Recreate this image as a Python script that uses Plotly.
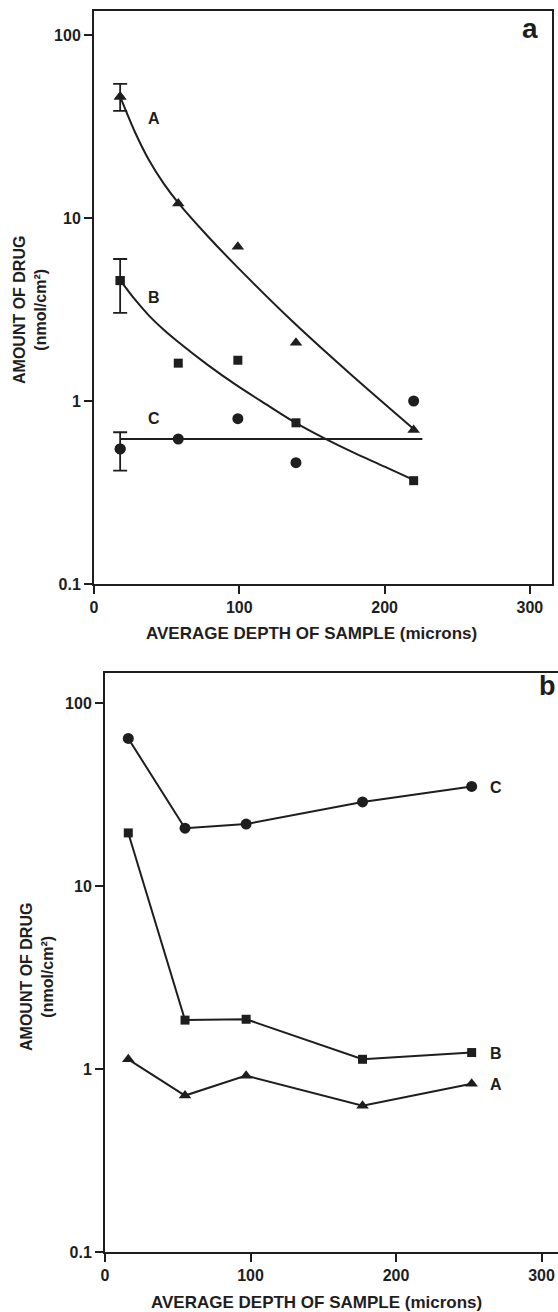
import plotly.graph_objects as go

# ---------------- Panel a data ----------------
depth_a = [18, 58, 99, 139, 220]
a_A = [46, 12.0, 6.97, 2.08, 0.695]
a_B = [4.55, 1.61, 1.67, 0.76, 0.367]
a_C = [0.547, 0.62, 0.80, 0.46, 1.0]
err_x_a = [18]
err_hi_a = {"A": 54, "B": 5.97, "C": 0.675}
err_lo_a = {"A": 38.5, "B": 3.03, "C": 0.416}

# fitted curves
fit_x_A = [18, 28, 38, 48, 58, 78, 98, 138, 178, 221]
fit_A = [46.0, 29.7, 20.6, 15.4, 12.1, 8.0, 5.46, 2.66, 1.37, 0.692]
fit_x_B = [18, 28, 38, 48, 58, 78, 98, 118, 138, 158, 178, 200, 221]
fit_B = [4.58, 3.60, 2.92, 2.45, 2.10, 1.58, 1.22, 0.964, 0.766, 0.628, 0.525, 0.438, 0.367]
fit_x_C = [18, 226]
fit_C = [0.62, 0.62]

# ---------------- Panel b data ----------------
depth_b = [16, 55, 97, 177, 252]
b_C = [64, 20.7, 21.8, 28.8, 35]
b_B = [19.5, 1.85, 1.87, 1.13, 1.23]
b_A = [1.13, 0.716, 0.92, 0.63, 0.83]

y_ticks = [0.1, 1, 10, 100]
y_tick_text = ["0.1", "1", "10", "100"]
x_ticks = [0, 100, 200, 300]
x_tick_text = ["0", "100", "200", "300"]

INK = "#1e1e1e"
FONT = "Liberation Sans"
W, H = 558, 1312

fig = go.Figure()

sym = {"A": "triangle-up", "B": "square", "C": "circle"}
msize = {"A": 11, "B": 9, "C": 11}

# panel a: markers
for key, vals in (("A", a_A), ("B", a_B), ("C", a_C)):
    fig.add_trace(go.Scatter(
        x=depth_a, y=vals, mode="markers", xaxis="x", yaxis="y",
        marker=dict(symbol=sym[key], size=msize[key], color=INK),
        showlegend=False))
    # error bar on first point only
    fig.add_trace(go.Scatter(
        x=err_x_a, y=[vals[0]], mode="markers", xaxis="x", yaxis="y",
        marker=dict(symbol=sym[key], size=msize[key], color=INK),
        error_y=dict(type="data", symmetric=False,
                     array=[err_hi_a[key] - vals[0]],
                     arrayminus=[vals[0] - err_lo_a[key]],
                     color=INK, thickness=1.8, width=7),
        showlegend=False))

for fx, fy in ((fit_x_A, fit_A), (fit_x_B, fit_B), (fit_x_C, fit_C)):
    fig.add_trace(go.Scatter(
        x=fx, y=fy, mode="lines", xaxis="x", yaxis="y",
        line=dict(color=INK, width=2, shape="spline", smoothing=0.8),
        showlegend=False))

# panel b
for key, vals in (("C", b_C), ("B", b_B), ("A", b_A)):
    fig.add_trace(go.Scatter(
        x=depth_b, y=vals, mode="lines+markers", xaxis="x2", yaxis="y2",
        line=dict(color=INK, width=2),
        marker=dict(symbol=sym[key], size=msize[key], color=INK),
        showlegend=False))


def px_x(p):
    return p / W


def px_y(p):
    return 1 - p / H


axis_common = dict(showgrid=False, zeroline=False, showline=True, linecolor=INK,
                   linewidth=2, ticks="outside", tickcolor=INK, tickwidth=1.8,
                   ticklen=8, tickfont=dict(family=FONT, size=16, color=INK, weight="bold"))

# panel a geometry (pixels)
xa0, xa1 = 94, 552
ya_top, ya_bot = 11, 584
a_xmax = (xa1 - xa0) / 1.453
a_ytop = 2 + (35 - ya_top) / 183.0

# panel b geometry (pixels)
xb0, xb1 = 105, 558
yb_top, yb_bot = 673, 1252
b_xmax = (xb1 - xb0) / 1.455
b_ytop = 2 + (703 - yb_top) / 183.0

fig.update_layout(
    width=W, height=H,
    margin=dict(l=0, r=0, t=0, b=0),
    paper_bgcolor="white", plot_bgcolor="white",
    xaxis=dict(domain=[px_x(xa0), px_x(xa1)], range=[0, a_xmax], anchor="y",
               tickvals=x_ticks, ticktext=x_tick_text, mirror=True, automargin=False,
               **axis_common),
    yaxis=dict(domain=[px_y(ya_bot), px_y(ya_top)], type="log", range=[-1, a_ytop],
               anchor="x", tickvals=y_ticks, ticktext=y_tick_text, mirror=True,
               automargin=False, **axis_common),
    xaxis2=dict(domain=[px_x(xb0), 1.0], range=[0, b_xmax], anchor="y2",
                tickvals=x_ticks, ticktext=x_tick_text, mirror=True, automargin=False,
                **axis_common),
    yaxis2=dict(domain=[px_y(yb_bot), px_y(yb_top)], type="log", range=[-1, b_ytop],
                anchor="x2", tickvals=y_ticks, ticktext=y_tick_text, mirror=False,
                automargin=False, **axis_common),
)


def ann(text, x, y, xref="paper", yref="paper", size=16, angle=0):
    fig.add_annotation(text=text, x=x, y=y, xref=xref, yref=yref, showarrow=False,
                       textangle=angle, xanchor="center", yanchor="middle",
                       font=dict(family=FONT, size=size, color=INK, weight="bold"))


# axis titles
ytitle = "AMOUNT OF DRUG<br>(nmol/cm²)"
ann(ytitle, px_x(30), px_y(310), size=16, angle=-90)
ann(ytitle, px_x(37), px_y(977), size=16, angle=-90)
xtitle = "AVERAGE DEPTH OF SAMPLE (microns)"
ann(xtitle, px_x(311), px_y(633), size=17)
ann(xtitle, px_x(316), px_y(1302), size=17)

# panel letters
ann("a", px_x(530), px_y(29), size=28)
ann("b", px_x(547), px_y(686), size=27)

# curve labels panel a
ann("A", 41.3, 1.546, xref="x", yref="y")
ann("B", 41.3, 0.568, xref="x", yref="y")
ann("C", 41.3, -0.093, xref="x", yref="y")
# curve labels panel b
ann("C", 269, 1.541, xref="x2", yref="y2")
ann("B", 269, 0.087, xref="x2", yref="y2")
ann("A", 269, -0.087, xref="x2", yref="y2")

fig.write_html("out.html",
               config={"displayModeBar": False},
               post_script="document.body.style.margin='0';document.body.style.overflow='hidden';")
